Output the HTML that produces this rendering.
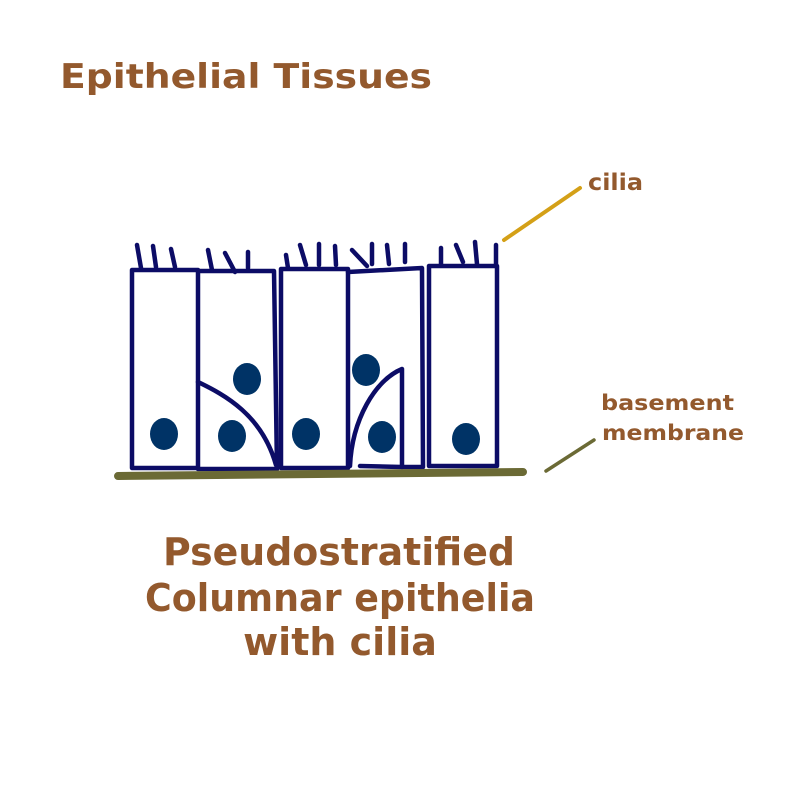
<!DOCTYPE html>
<html><head><meta charset="utf-8"><style>
html,body{margin:0;padding:0;background:#fff;}
svg{display:block}
text{font-family:"DejaVu Sans","Liberation Sans",sans-serif;font-weight:bold;fill:#93592d}
</style></head><body>
<svg width="800" height="800" viewBox="0 0 800 800">
<text x="60" y="88" font-size="34" textLength="372" lengthAdjust="spacingAndGlyphs">Epithelial Tissues</text>
<g stroke="#0c0c66" stroke-width="4.5" fill="none" stroke-linecap="round" stroke-linejoin="round">
<rect x="132" y="270" width="66" height="198"/>
<path d="M198 271 L274 271 L277 469 L198 469"/>
<rect x="281" y="269" width="67" height="199"/>
<path d="M348 272 L422 268 L423 467 L402 467"/>
<rect x="429" y="266" width="68" height="200"/>
<path d="M198 382 C225 395 262 415 276 465"/>
<path d="M350 466 C352 420 375 380 402 369 L402 467 L360 466"/>
<g stroke-width="4.5">
<line x1="137" y1="245" x2="141" y2="268"/><line x1="153" y1="246" x2="156" y2="267"/><line x1="171" y1="249" x2="175" y2="267"/>
<line x1="208" y1="250" x2="212" y2="270"/><line x1="225" y1="253" x2="235" y2="272"/><line x1="248" y1="252" x2="248" y2="268"/>
<line x1="286" y1="255" x2="288" y2="268"/><line x1="300" y1="245" x2="306" y2="265"/><line x1="319" y1="244" x2="319" y2="265"/><line x1="335" y1="246" x2="336" y2="265"/>
<line x1="352" y1="250" x2="367" y2="266"/><line x1="372" y1="244" x2="372" y2="264"/><line x1="387" y1="245" x2="389" y2="264"/><line x1="405" y1="244" x2="405" y2="262"/>
<line x1="441" y1="248" x2="441" y2="264"/><line x1="456" y1="245" x2="463" y2="262"/><line x1="475" y1="242" x2="477" y2="264"/><line x1="496" y1="245" x2="496" y2="266"/>
</g>
</g>
<g fill="#003366">
<ellipse cx="164" cy="434" rx="14" ry="16"/><ellipse cx="247" cy="379" rx="14" ry="16"/><ellipse cx="232" cy="436" rx="14" ry="16"/>
<ellipse cx="306" cy="434" rx="14" ry="16"/><ellipse cx="366" cy="370" rx="14" ry="16"/><ellipse cx="382" cy="437" rx="14" ry="16"/>
<ellipse cx="466" cy="439" rx="14" ry="16"/>
</g>
<line x1="118" y1="476" x2="523" y2="472" stroke="#6b6a35" stroke-width="8" stroke-linecap="round"/>
<line x1="504" y1="240" x2="580" y2="188" stroke="#d4a017" stroke-width="4" stroke-linecap="round"/>
<line x1="546" y1="471" x2="594" y2="440" stroke="#6b6a35" stroke-width="3.5" stroke-linecap="round"/>
<text x="588" y="190" font-size="23" textLength="55" lengthAdjust="spacingAndGlyphs">cilia</text>
<text x="601" y="410" font-size="21" textLength="133" lengthAdjust="spacingAndGlyphs">basement</text>
<text x="602" y="440" font-size="21" textLength="142" lengthAdjust="spacingAndGlyphs">membrane</text>
<g font-size="38" text-anchor="middle">
<text x="339" y="565" textLength="352" lengthAdjust="spacingAndGlyphs">Pseudostratified</text>
<text x="340" y="611" textLength="390" lengthAdjust="spacingAndGlyphs">Columnar epithelia</text>
<text x="340" y="655">with cilia</text>
</g>
</svg>
</body></html>
